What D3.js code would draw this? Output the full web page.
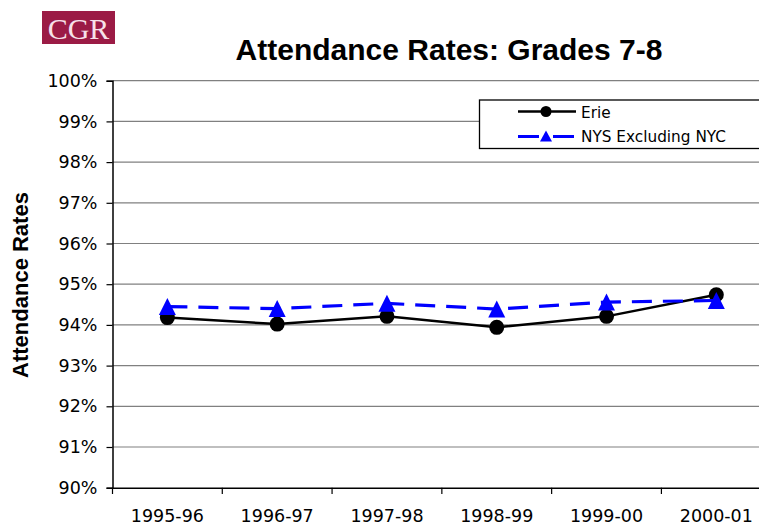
<!DOCTYPE html>
<html><head><meta charset="utf-8">
<script src="https://cdn.jsdelivr.net/npm/d3@7"></script>
<style>html,body{margin:0;padding:0;background:#fff;}svg{display:block;}</style>
</head><body>
<svg id="chart" width="759" height="525"></svg>
<script>
const categories = ["1995-96","1996-97","1997-98","1998-99","1999-00","2000-01"];
const erie = [94.18, 94.02, 94.21, 93.94, 94.21, 94.74];
const nys = [94.45, 94.40, 94.53, 94.39, 94.56, 94.60];
const yTicks = [90,91,92,93,94,95,96,97,98,99,100];
const seriesNames = ["Erie","NYS Excluding NYC"];
const titleText = "Attendance Rates: Grades 7-8";
const yTitle = "Attendance Rates";

const svg = d3.select("#chart");
const x = d3.scaleBand().domain(categories).range([112.5, 771.2]).padding(0);
const y = d3.scaleLinear().domain([90,100]).range([487.7, 80.7]);
const cx = c => x(c) + x.bandwidth()/2;

// logo
svg.append("rect").attr("x",42).attr("y",11).attr("width",73).attr("height",33).attr("fill","#9b1b45");
svg.append("text").attr("x",78.5).attr("y",38.5).attr("text-anchor","middle")
  .attr("font-family","Liberation Serif").attr("font-size",30).attr("fill","#f6e2ea").text("CGR");

// title
svg.append("text").attr("x",449).attr("y",60).attr("text-anchor","middle")
  .attr("font-family","Liberation Sans, Arial").attr("font-weight","bold").attr("font-size",30).attr("fill","#000").text(titleText);

// y title
svg.append("text").attr("transform","translate(28,285) rotate(-90)").attr("text-anchor","middle")
  .attr("font-family","Liberation Sans, Arial").attr("font-weight","bold").attr("font-size",22).attr("fill","#000").text(yTitle);

// gridlines
svg.append("g").selectAll("line").data(yTicks.filter(d=>d>90)).join("line")
  .attr("x1",112.5).attr("x2",780).attr("y1",d=>y(d)).attr("y2",d=>y(d))
  .attr("stroke","#808080").attr("stroke-width",1.2);

// y axis
const yAxis = svg.append("g").attr("transform","translate(112.5,0)")
  .call(d3.axisLeft(y).tickValues(yTicks).tickSize(6).tickPadding(9).tickFormat(d=>d+"%"));
yAxis.select(".domain").attr("stroke","#000").attr("stroke-width",1.5);
yAxis.selectAll(".tick line").attr("stroke","#000").attr("stroke-width",1.2);
yAxis.selectAll("text").attr("font-family","DejaVu Sans, Verdana").attr("font-size",17.5).attr("fill","#000");

// x axis
const xAxis = svg.append("g").attr("transform","translate(0,487.7)")
  .call(d3.axisBottom(x).tickSize(0).tickPadding(22));
xAxis.select(".domain").attr("stroke","#000").attr("stroke-width",1.5);
xAxis.selectAll("text").attr("font-family","DejaVu Sans, Verdana").attr("font-size",17.5).attr("fill","#000");
const bounds = categories.map(c=>x(c)).concat([x(categories[categories.length-1])+x.bandwidth()]);
svg.append("g").selectAll("line").data(bounds).join("line")
  .attr("x1",d=>d).attr("x2",d=>d).attr("y1",487.7).attr("y2",494)
  .attr("stroke","#000").attr("stroke-width",1.2);

// lines
const line = d3.line().x((d,i)=>cx(categories[i])).y(d=>y(d));
svg.append("path").datum(erie).attr("d",line).attr("fill","none").attr("stroke","#000").attr("stroke-width",2.5);
svg.append("g").selectAll("circle").data(erie).join("circle")
  .attr("cx",(d,i)=>cx(categories[i])).attr("cy",d=>y(d)).attr("r",7.5).attr("fill","#000");
svg.append("path").datum(nys).attr("d",line).attr("fill","none").attr("stroke","#0000ff").attr("stroke-width",3.2).attr("stroke-dasharray","20,11");
const tri = (px,py,w,h) => `M${px},${py-h/2}L${px+w/2},${py+h/2}L${px-w/2},${py+h/2}Z`;
svg.append("g").selectAll("path").data(nys).join("path")
  .attr("d",(d,i)=>tri(cx(categories[i]), y(d), 17, 17)).attr("fill","#0000ff");

// legend
const lg = svg.append("g");
lg.append("rect").attr("x",479.5).attr("y",100).attr("width",300).attr("height",48.5)
  .attr("fill","#fff").attr("stroke","#000").attr("stroke-width",1.3);
lg.append("line").attr("x1",518).attr("x2",576).attr("y1",111.5).attr("y2",111.5).attr("stroke","#000").attr("stroke-width",2.5);
lg.append("circle").attr("cx",546).attr("cy",111.5).attr("r",5.5).attr("fill","#000");
lg.append("line").attr("x1",518).attr("x2",576).attr("y1",136.5).attr("y2",136.5).attr("stroke","#0000ff").attr("stroke-width",3).attr("stroke-dasharray","21,14");
lg.append("path").attr("d",tri(546,136,12,11)).attr("fill","#0000ff");
lg.selectAll("text.l").data(seriesNames).join("text").attr("class","l")
  .attr("x",581).attr("y",(d,i)=>117.5+i*24.5)
  .attr("font-family","DejaVu Sans, Verdana").attr("font-size",15.3).attr("fill","#000").text(d=>d);
</script>
</body></html>
